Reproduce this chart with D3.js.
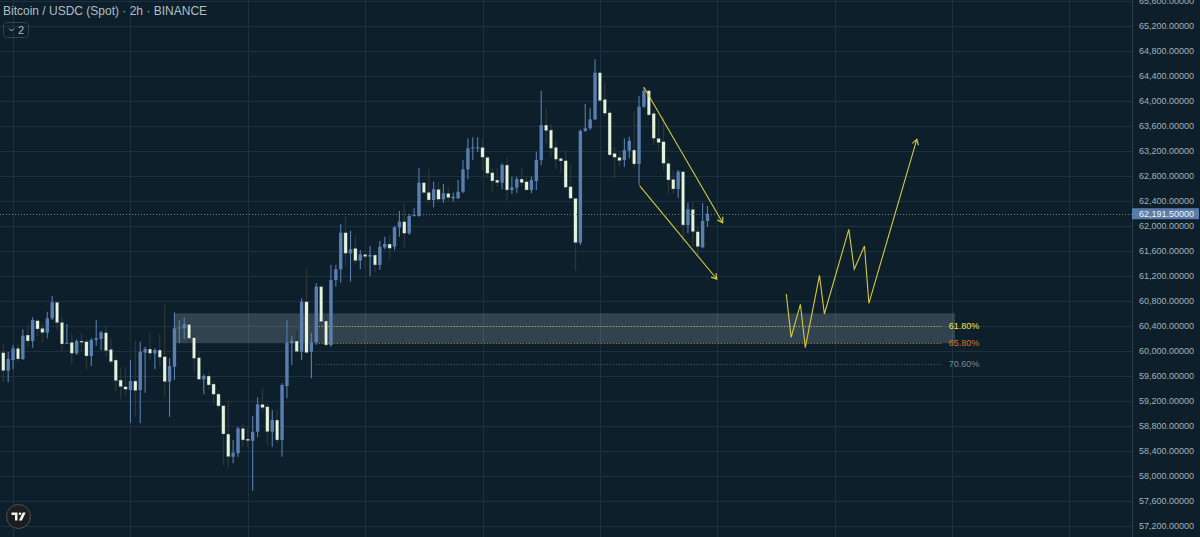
<!DOCTYPE html>
<html>
<head>
<meta charset="utf-8">
<script src="https://cdn.jsdelivr.net/npm/d3@7"></script>
<style>
  html, body { margin: 0; padding: 0; background: #0c1f2b; overflow: hidden; }
</style>
</head>
<body>
<div id="chart"></div>
<script>
// BTC/USDC 2h candles (index 0 = leftmost candle)
const opens = [59968,59680,59851,60038,59867,60251,60155,60480,60358,60288,
  60518,60774,60454,60112,60134,59958,60155,60144,59915,60171,
  60187,60288,60022,59851,59531,59424,59371,59515,59371,59968,
  60027,59958,60011,59904,59504,59744,60358,60358,60422,60208,
  59888,59542,59595,59467,59307,59120,58667,58304,58358,58758,
  58587,58560,58704,59142,59104,58704,58891,58571,59435,60118,
  60155,59984,60784,59984,60134,61024,60475,60091,61131,61302,
  61888,61558,61638,61440,61542,61504,61531,61371,61654,61707,
  61664,61974,62064,61878,62155,62155,62688,62534,62411,62582,
  62422,62518,62438,62438,62544,62902,63238,63238,63254,63094,
  62848,62731,62688,62971,62571,62608,62747,62704,62571,62715,
  63051,63611,63531,63254,63078,63040,62624,62438,61728,63515,
  63558,63702,64448,64022,63808,63158,63094,63051,63200,63211,
  62987,63904,64160,63798,63398,63344,62998,62742,62587,62864,
  62011,62262,61904,61654,62075];
const highs = [60107,59984,60091,60118,60342,60422,60534,60502,60427,60624,
  60875,60800,60544,60427,60267,60182,60288,60182,60198,60491,
  60320,60411,60198,59894,59734,59744,59851,60160,60144,60064,
  60288,60038,60267,60731,59878,60614,60491,60534,60454,60224,
  59995,59622,59648,59515,59371,59131,59211,58571,58784,58822,
  58758,58955,59254,59408,59147,59051,59051,59478,60491,60235,
  60315,60838,61302,60288,61078,61050,60608,61371,61371,62027,
  62155,61920,61835,61611,61558,61675,61568,61760,61824,61851,
  61995,62235,62358,62182,62278,62918,62704,62902,62704,62704,
  62667,62624,62528,62731,63051,63398,63414,63414,63398,63115,
  62918,62918,62998,63078,62784,62784,62918,62795,62784,63184,
  64160,63878,63627,63355,63094,63211,62982,62438,63542,63947,
  63878,64662,64464,64288,63862,63254,63200,63398,63424,63840,
  64075,64214,64182,63840,63702,63744,63078,62891,62891,62864,
  62368,62384,61984,62358,62315];
const lows = [59504,59494,59702,59824,59851,60064,60048,60235,60128,60198,
  60491,60331,60000,60107,59787,59931,59995,59702,59755,60080,
  60011,59904,59787,59355,59222,59280,58848,58944,58838,59328,
  59851,59702,59744,59264,58944,59531,60118,60182,60134,59648,
  59531,59302,59382,59131,59062,58171,58128,58198,58304,58464,
  58464,57760,58614,59008,58480,58464,58518,58304,59238,59771,
  59968,59851,59947,59558,60091,60440,60064,60064,61024,61088,
  61344,61104,61387,61307,61318,61195,61248,61291,61622,61478,
  61611,61824,61648,61851,62144,62144,62507,62368,62294,62384,
  62368,62384,62384,62427,62518,62742,63051,63184,62891,62758,
  62544,62624,62582,62400,62507,62528,62624,62560,62518,62571,
  62971,63318,63094,62902,62848,62598,62422,61280,61691,63504,
  63531,63691,63984,63755,63115,62758,62944,62944,63078,62934,
  62651,63878,63750,63291,63211,62891,62507,62507,62448,61718,
  61878,61664,61531,61638,61984];
const closes = [59680,59867,60038,59867,60240,60155,60491,60347,60288,60518,
  60774,60448,60107,60128,59958,60155,60134,59915,60171,60198,
  60294,60000,59824,59520,59424,59382,59515,59360,59984,60027,
  59958,60011,59894,59504,59755,60358,60370,60422,60198,59878,
  59542,59595,59451,59302,59115,58667,58304,58368,58758,58571,
  58560,58704,59142,59088,58704,58891,58571,59451,60128,60155,
  59984,60784,59968,60134,61024,60464,60091,61131,61302,61888,
  61558,61622,61440,61542,61504,61531,61371,61664,61707,61638,
  61974,62064,61878,62155,62171,62688,62528,62411,62582,62422,
  62518,62448,62464,62544,62902,63238,63254,63254,63094,62838,
  62715,62688,62971,62571,62614,62747,62688,62571,62731,63051,
  63611,63520,63238,63062,63035,62614,62438,61728,63515,63558,
  63702,64448,64000,63798,63131,63094,63040,63211,63360,62987,
  63904,64160,63771,63398,63328,62998,62731,62587,62864,62011,
  62262,61904,61664,62075,62191.5];

const lastPrice = 62191.5;

// price axis ticks and vertical grid (every 24 bars = 2 days)
const priceTicks = d3.range(57200, 65601, 400);
const gridLevels = d3.range(56800, 65601, 400);
const gridBars = d3.range(2, 230, 24);

// drawings, anchored as [bar index, price]
const zoneBox = { from: 35.1, to: 194.6, top: 60598, bottom: 60120 };
const fibNames = ["61.80%", "65.80%", "70.60%"];
const fibPrices = [60395, 60128, 59787];
const fibColors = ["#f2e64a", "#d9781c", "#7a8a94"];
const fibLineColors = ["#c9bf3a", "#c0862a", "#56656e"];
const fibStart = 63.9, fibEnd = 192.0;
const channelUpper = [[131.0, 64214], [147.1, 62048]];
const channelLower = [[130.1, 62640], [145.9, 61147]];
const zigzag = [[160.1, 60907], [161.1, 60214], [163.0, 60742], [164.0, 60048],
  [166.9, 61206], [167.9, 60587], [172.9, 61942], [174.0, 61302],
  [176.1, 61675], [177.0, 60758], [186.8, 63382]];

const width = 1200, height = 537;
const plotRight = 1132;

const svg = d3.select("#chart").append("svg")
  .attr("width", width)
  .attr("height", height)
  .style("display", "block")
  .style("font-family", "'Liberation Sans', Arial, sans-serif");

svg.append("rect").attr("width", width).attr("height", height).attr("fill", "#0c1f2b");

const x = d3.scaleLinear().domain([0, 144]).range([3.3, 707.5]);
const y = d3.scaleLinear().domain([57200, 65200]).range([525.7, 25.7]);

// grid
svg.append("g").selectAll("line")
  .data(gridLevels).enter().append("line")
  .attr("x1", 0).attr("x2", plotRight)
  .attr("y1", d => Math.round(y(d)) + 0.5).attr("y2", d => Math.round(y(d)) + 0.5)
  .attr("stroke", "#1c3240").attr("stroke-width", 1);

svg.append("g").selectAll("line")
  .data(gridBars).enter().append("line")
  .attr("x1", d => Math.round(x(d)) + 0.5).attr("x2", d => Math.round(x(d)) + 0.5)
  .attr("y1", 0).attr("y2", height)
  .attr("stroke", "#1c3240").attr("stroke-width", 1);

// zone rectangle
svg.append("rect")
  .attr("x", x(zoneBox.from))
  .attr("width", x(zoneBox.to) - x(zoneBox.from))
  .attr("y", y(zoneBox.top))
  .attr("height", y(zoneBox.bottom) - y(zoneBox.top))
  .attr("fill", "rgba(200,215,225,0.2)");

// fib lines + labels
fibPrices.forEach((p, i) => {
  svg.append("line")
    .attr("x1", x(fibStart)).attr("x2", x(fibEnd))
    .attr("y1", Math.round(y(p)) + 0.5).attr("y2", Math.round(y(p)) + 0.5)
    .attr("stroke", fibLineColors[i]).attr("stroke-width", 1)
    .attr("stroke-dasharray", "1,2");
  svg.append("text")
    .attr("x", x(fibEnd) + 6.5).attr("y", y(p))
    .attr("dy", "0.35em")
    .attr("font-size", "9px")
    .attr("fill", fibColors[i])
    .text(fibNames[i]);
});

// candles
const candles = d3.range(opens.length).map(i => ({
  i: i, o: opens[i], h: highs[i], l: lows[i], c: closes[i]
}));
const upBody = "#5a7eb0", upWick = "#5a7eb0";
const downBody = "#e6f4dc", downWick = "#2b3439";
const bodyW = 3.4;

const cg = svg.append("g");
cg.selectAll(".wick").data(candles).enter().append("line")
  .attr("class", "wick")
  .attr("x1", d => x(d.i)).attr("x2", d => x(d.i))
  .attr("y1", d => y(d.h)).attr("y2", d => y(d.l))
  .attr("stroke", d => d.c >= d.o ? upWick : downWick)
  .attr("stroke-width", d => d.c >= d.o ? 1.1 : 1.4);

cg.selectAll(".body").data(candles).enter().append("rect")
  .attr("class", "body")
  .attr("x", d => x(d.i) - bodyW / 2)
  .attr("width", bodyW)
  .attr("y", d => y(Math.max(d.o, d.c)))
  .attr("height", d => Math.max(1, Math.abs(y(d.o) - y(d.c))))
  .attr("fill", d => d.c >= d.o ? upBody : downBody)
  .attr("stroke", d => d.c >= d.o ? "none" : "#2b3a42")
  .attr("stroke-width", 0.4);

// last price dotted line
svg.append("line")
  .attr("x1", 0).attr("x2", plotRight)
  .attr("y1", Math.round(y(lastPrice)) + 0.5).attr("y2", Math.round(y(lastPrice)) + 0.5)
  .attr("stroke", "#6f8190").attr("stroke-width", 1)
  .attr("stroke-dasharray", "1,2");

// yellow drawings
const yellow = "#d6c93a";
const line = d3.line().x(d => x(d[0])).y(d => y(d[1]));

function arrowHead(pts) {
  const a = pts[pts.length - 2], b = pts[pts.length - 1];
  const x1 = x(a[0]), y1 = y(a[1]), x2 = x(b[0]), y2 = y(b[1]);
  const ang = Math.atan2(y2 - y1, x2 - x1);
  const len = 6, spread = 0.55;
  const p1 = [x2 - len * Math.cos(ang - spread), y2 - len * Math.sin(ang - spread)];
  const p2 = [x2 - len * Math.cos(ang + spread), y2 - len * Math.sin(ang + spread)];
  svg.append("path")
    .attr("d", `M${p1[0]},${p1[1]}L${x2},${y2}L${p2[0]},${p2[1]}`)
    .attr("fill", "none").attr("stroke", yellow).attr("stroke-width", 1.2);
}

[channelUpper, channelLower, zigzag].forEach(pts => {
  svg.append("path")
    .attr("d", line(pts))
    .attr("fill", "none")
    .attr("stroke", yellow)
    .attr("stroke-width", 1.1)
    .attr("stroke-linejoin", "miter");
  arrowHead(pts);
});

// price axis
svg.append("rect").attr("x", plotRight).attr("y", 0)
  .attr("width", width - plotRight).attr("height", height).attr("fill", "#0c1f2b");
svg.append("line")
  .attr("x1", plotRight + 0.5).attr("x2", plotRight + 0.5)
  .attr("y1", 0).attr("y2", height)
  .attr("stroke", "#2a3e4c");

const yAxis = svg.append("g")
  .attr("transform", `translate(${plotRight},0)`)
  .call(d3.axisRight(y).tickValues(priceTicks).tickFormat(d3.format(",.5f"))
    .tickSize(0).tickPadding(7));
yAxis.select(".domain").remove();
yAxis.selectAll("text")
  .attr("fill", "#a7b1b7")
  .attr("font-size", "9px")
  .attr("font-family", "'Liberation Sans', Arial, sans-serif");

// last price label
svg.append("rect")
  .attr("x", plotRight).attr("y", y(lastPrice) - 5.5)
  .attr("width", width - plotRight - 1).attr("height", 11)
  .attr("fill", "#5a7cab");
svg.append("text")
  .attr("x", plotRight + 7).attr("y", y(lastPrice))
  .attr("dy", "0.35em")
  .attr("font-size", "9px")
  .attr("fill", "#eef3f8")
  .text(d3.format(",.5f")(lastPrice));

// title + legend toggle
svg.append("text")
  .attr("x", 3).attr("y", 11)
  .attr("dy", "0.35em")
  .attr("font-size", "12px")
  .attr("fill", "#b3bec3")
  .text("Bitcoin / USDC (Spot) \u00b7 2h \u00b7 BINANCE");

svg.append("rect")
  .attr("x", 3.5).attr("y", 22.5).attr("width", 25).attr("height", 15).attr("rx", 3)
  .attr("fill", "none").attr("stroke", "#30444f");
svg.append("path")
  .attr("d", "M9,28.5 L11.5,31 L14,28.5")
  .attr("fill", "none").attr("stroke", "#b3bec3").attr("stroke-width", 1);
svg.append("text")
  .attr("x", 18).attr("y", 30)
  .attr("dy", "0.35em")
  .attr("font-size", "11px")
  .attr("fill", "#b3bec3")
  .text("2");

// logo
const logo = svg.append("g").attr("transform", "translate(18.5,516.5)");
logo.append("circle").attr("r", 12).attr("fill", "#1b1d1f").attr("stroke", "#4b5156").attr("stroke-width", 1);
logo.append("path")
  .attr("d", "M-7,-4 H-1 V4 H-3.5 V-1.5 H-7 Z")
  .attr("fill", "#f2f2f2");
logo.append("circle").attr("cx", 1.5).attr("cy", -2.7).attr("r", 1.3).attr("fill", "#f2f2f2");
logo.append("path")
  .attr("d", "M4.2,-4 H7.2 L3.4,4 H0.4 Z")
  .attr("fill", "#f2f2f2");
</script>
</body>
</html>
